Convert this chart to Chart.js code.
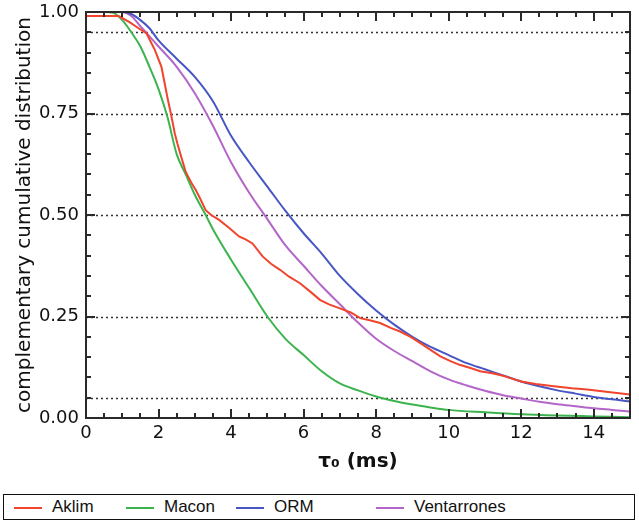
<!DOCTYPE html>
<html>
<head>
<meta charset="utf-8">
<script src="https://cdn.jsdelivr.net/npm/chart.js@4.4.1/dist/chart.umd.min.js"></script>
<style>
body { margin: 0; background: #fff; }
#wrap { position: relative; width: 639px; height: 522px; }
#grafica { position: absolute; left: 0; top: 0; }
#leyenda { position: absolute; left: 3px; top: 494px; width: 630px; height: 24px;
  border: 1.5px solid #111; font-family: "Liberation Sans"; font-size: 17px; color: #111; }
.item { position: absolute; top: 0; height: 24px; line-height: 24px; white-space: nowrap; }
.item i { display: inline-block; width: 28px; height: 2px; vertical-align: middle; margin-right: 10px; }
</style>
</head>
<body>
<div id="wrap">
  <canvas id="grafica" width="639" height="490"></canvas>
  <div id="leyenda"></div>
</div>
<script>
// series (tau_0 en ms, distribucion acumulada complementaria)
const series = ['Aklim', 'Macon', 'ORM', 'Ventarrones'];
const colores = ['#f0442c', '#3cb44e', '#4856c4', '#b466c8'];

const aklimX = [0, 0.9, 1.2, 1.45, 1.67, 1.9, 2.08, 2.17, 2.26, 2.34, 2.45, 2.52, 2.62, 2.75, 2.9, 3.03, 3.15, 3.3, 3.45, 3.67, 3.95, 4.22, 4.4, 4.59, 4.87, 5.1, 5.35, 5.6, 5.9, 6.2, 6.45, 6.7, 7.0, 7.3, 7.56, 7.85, 8.11, 8.4, 8.66, 8.95, 9.21, 9.5, 9.77, 10.05, 10.3, 10.6, 10.87, 11.2, 11.5, 11.75, 12.0, 12.4, 12.9, 13.4, 13.82, 14.4, 15];
const aklimY = [0.99, 0.99, 0.975, 0.96, 0.947, 0.906, 0.865, 0.824, 0.783, 0.75, 0.70, 0.676, 0.645, 0.606, 0.58, 0.561, 0.54, 0.512, 0.5, 0.488, 0.468, 0.447, 0.44, 0.43, 0.398, 0.38, 0.365, 0.348, 0.332, 0.31, 0.291, 0.28, 0.27, 0.26, 0.246, 0.24, 0.234, 0.222, 0.213, 0.2, 0.185, 0.168, 0.152, 0.14, 0.131, 0.123, 0.115, 0.11, 0.104, 0.097, 0.09, 0.084, 0.078, 0.073, 0.07, 0.064, 0.058];

const maconX = [0, 0.5, 0.75, 1.0, 1.25, 1.5, 1.75, 2.0, 2.25, 2.5, 2.75, 3.0, 3.3, 3.5, 4.0, 4.5, 5.0, 5.5, 6.0, 6.5, 7.0, 7.5, 8.0, 8.5, 9.0, 9.5, 10, 11, 12, 13, 14, 15];
const maconY = [1.0, 1.0, 0.998, 0.98, 0.95, 0.915, 0.865, 0.81, 0.74, 0.65, 0.6, 0.55, 0.5, 0.465, 0.39, 0.32, 0.25, 0.195, 0.155, 0.115, 0.085, 0.068, 0.053, 0.042, 0.033, 0.026, 0.02, 0.014, 0.009, 0.006, 0.004, 0.002];

const ormX = [0, 1.0, 1.25, 1.5, 1.75, 2.0, 2.5, 3.0, 3.5, 4.0, 4.5, 5.0, 5.5, 6.0, 6.5, 7.0, 7.5, 8.0, 8.5, 9.0, 9.5, 10, 10.5, 11, 11.5, 12, 12.5, 13, 13.5, 14, 14.5, 15];
const ormY = [1.0, 1.0, 0.995, 0.98, 0.96, 0.93, 0.885, 0.84, 0.78, 0.695, 0.63, 0.57, 0.51, 0.455, 0.405, 0.35, 0.305, 0.265, 0.23, 0.2, 0.175, 0.155, 0.135, 0.12, 0.105, 0.09, 0.078, 0.068, 0.06, 0.052, 0.046, 0.041];

const ventX = [0, 1.0, 1.25, 1.5, 1.75, 2.0, 2.5, 3.0, 3.5, 4.0, 4.5, 5.0, 5.5, 6.0, 6.5, 7.0, 7.5, 8.0, 8.5, 9.0, 9.5, 10, 10.5, 11, 11.5, 12, 12.5, 13, 13.5, 14, 14.5, 15];
const ventY = [1.0, 1.0, 0.99, 0.965, 0.94, 0.915, 0.865, 0.8, 0.72, 0.63, 0.555, 0.49, 0.425, 0.375, 0.325, 0.28, 0.235, 0.195, 0.165, 0.14, 0.115, 0.095, 0.08, 0.067, 0.056, 0.048, 0.04, 0.034, 0.029, 0.024, 0.02, 0.016];

const xTicks = [0, 2, 4, 6, 8, 10, 12, 14];
const yTicks = [0, 0.25, 0.5, 0.75, 1.0];
const yTickLabels = ['0.00', '0.25', '0.50', '0.75', '1.00'];
const lineasPunteadas = [0.05, 0.25, 0.5, 0.75, 0.95];

const puntos = (xs, ys) => xs.map((x, i) => ({x: x, y: ys[i]}));
const valores = [[aklimX, aklimY], [maconX, maconY], [ormX, ormY], [ventX, ventY]];

// lineas punteadas, marco y marcas hacia adentro (estilo IDL)
const marcoEjes = {
    id: 'marcoEjes',
    beforeDatasetsDraw(chart) {
        const ctx = chart.ctx, a = chart.chartArea, y = chart.scales.y;
        ctx.save();
        ctx.strokeStyle = '#333';
        ctx.lineWidth = 1.4;
        ctx.setLineDash([2, 3]);
        lineasPunteadas.forEach(v => {
            const py = Math.round(y.getPixelForValue(v)) + 0.5;
            ctx.beginPath();
            ctx.moveTo(a.left, py);
            ctx.lineTo(a.right, py);
            ctx.stroke();
        });
        ctx.restore();
    },
    afterDraw(chart) {
        const ctx = chart.ctx, a = chart.chartArea, y = chart.scales.y, x = chart.scales.x;
        const izq = Math.round(a.left), der = Math.round(a.right);
        const arr = Math.round(a.top), aba = Math.round(a.bottom);
        ctx.save();
        ctx.fillStyle = '#2a2a2a';
        // marco
        ctx.fillRect(izq - 1, arr - 1, der - izq + 2, 2);
        ctx.fillRect(izq - 1, aba - 1, der - izq + 2, 2);
        ctx.fillRect(izq - 1, arr - 1, 2, aba - arr + 2);
        ctx.fillRect(der - 1, arr - 1, 2, aba - arr + 2);
        // marcas menores y mayores
        for (let k = 0; k <= 30; k++) {
            const px = Math.round(x.getPixelForValue(k * 0.5));
            const largo = (k % 4 === 0) ? 9 : 5;
            ctx.fillRect(px - 1, aba - largo, 2, largo);
            ctx.fillRect(px - 1, arr, 2, largo);
        }
        for (let k = 0; k <= 20; k++) {
            const py = Math.round(y.getPixelForValue(k * 0.05));
            const largo = (k % 5 === 0) ? 9 : 5;
            ctx.fillRect(izq, py - 1, largo, 2);
            ctx.fillRect(der - largo, py - 1, largo, 2);
        }
        ctx.restore();
    }
};

const grafica = document.getElementById('grafica').getContext('2d');

new Chart(grafica, {
    type: 'scatter',
    data: {
        datasets: series.map((nombre, i) => ({
            label: nombre,
            data: puntos(valores[i][0], valores[i][1]),
            showLine: true,
            borderColor: colores[i],
            backgroundColor: colores[i],
            borderWidth: 2,
            pointRadius: 0,
            cubicInterpolationMode: i === 0 ? 'default' : 'monotone',
            tension: 0
        }))
    },
    options: {
        responsive: false,
        animation: false,
        layout: { padding: { top: 12, right: 9, left: 0, bottom: 0 } },
        plugins: {
            legend: { display: false },
            tooltip: { enabled: false }
        },
        scales: {
            x: {
                type: 'linear',
                min: 0,
                max: 15,
                afterBuildTicks: s => { s.ticks = xTicks.map(v => ({value: v})); },
                afterFit: s => { s.height = 72; s.paddingLeft = 0; s.paddingRight = 0; },
                grid: { display: false, drawTicks: false },
                border: { display: false },
                ticks: { padding: 5, color: '#111', font: { family: 'DejaVu Sans', size: 18 } },
                title: {
                    display: true,
                    text: 'τ₀ (ms)',
                    color: '#111',
                    font: { family: 'DejaVu Sans', size: 20, weight: 'bold' },
                    padding: { top: 0, bottom: 16 }
                }
            },
            y: {
                type: 'linear',
                min: 0,
                max: 1,
                afterBuildTicks: s => { s.ticks = yTicks.map(v => ({value: v})); },
                afterFit: s => { s.width = 86; s.paddingTop = 0; s.paddingBottom = 0; },
                grid: { display: false, drawTicks: false },
                border: { display: false },
                ticks: {
                    padding: 7,
                    color: '#111',
                    font: { family: 'DejaVu Sans', size: 18 },
                    callback: (v, i) => yTickLabels[i]
                },
                title: {
                    display: true,
                    text: 'complementary cumulative distribution',
                    color: '#111',
                    font: { family: 'DejaVu Sans', size: 20 },
                    padding: { top: 13, bottom: 0 }
                }
            }
        }
    },
    plugins: [marcoEjes]
});

// leyenda en recuadro inferior
const posLeyenda = [10, 122, 232, 372];
const leyenda = document.getElementById('leyenda');
series.forEach((nombre, i) => {
    const item = document.createElement('div');
    item.className = 'item';
    item.style.left = posLeyenda[i] + 'px';
    item.innerHTML = '<i style="background:' + colores[i] + '"></i>' + nombre;
    leyenda.appendChild(item);
});
</script>
</body>
</html>
